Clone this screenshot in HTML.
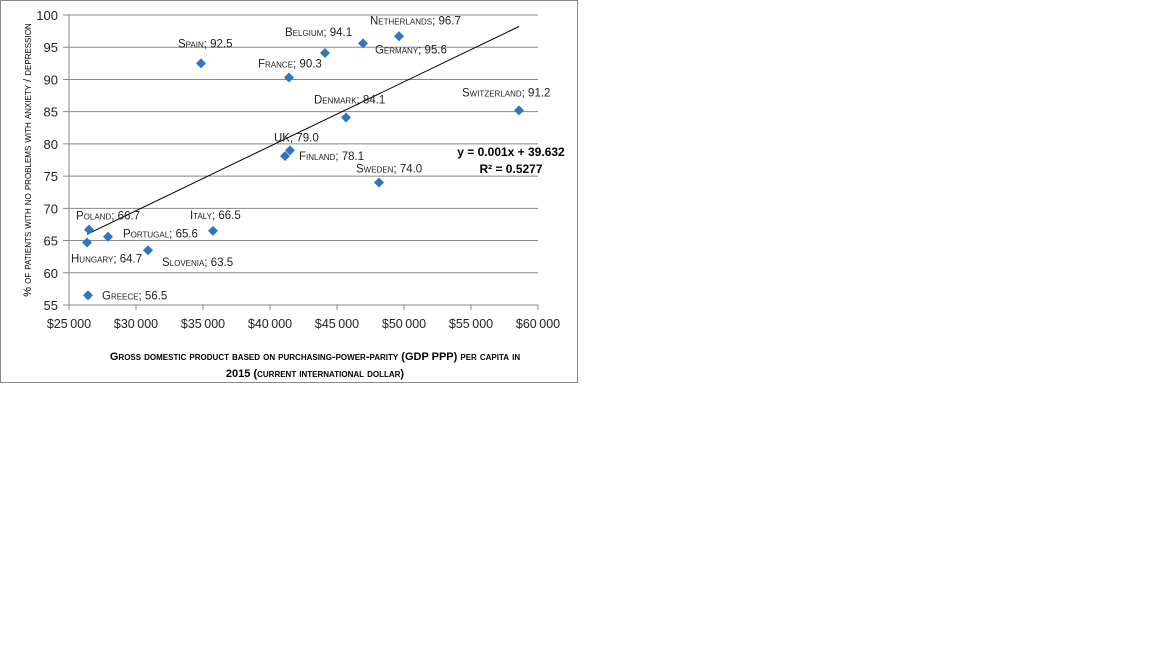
<!DOCTYPE html>
<html><head><meta charset="utf-8"><style>
body{margin:0;background:#fff;width:1152px;height:648px;overflow:hidden;font-family:"Liberation Sans",sans-serif}
svg text{font-family:"Liberation Sans",sans-serif}
.sc{font-variant:small-caps}
</style></head><body>
<svg id="chart" width="1152" height="648" xmlns="http://www.w3.org/2000/svg">
<rect x="0.5" y="0.5" width="577" height="382" fill="#fff" stroke="#888"/>
<g id="grid"></g><g id="trend"></g><g id="points"></g><g id="labels"></g>
<text class="sc" transform="translate(31,160) rotate(-90)" text-anchor="middle" font-size="11">% of patients with no problems with anxiety / depression</text>
<text class="sc" x="315" y="360" text-anchor="middle" font-size="11" font-weight="bold">Gross domestic product based on purchasing-power-parity (GDP PPP) per capita in</text>
<text class="sc" x="315" y="377" text-anchor="middle" font-size="11" font-weight="bold">2015 (current international dollar)</text>
<text x="511" y="156" text-anchor="middle" font-size="12" font-weight="bold">y = 0.001x + 39.632</text>
<text x="511" y="173" text-anchor="middle" font-size="12" font-weight="bold">R² = 0.5277</text>
</svg>
<script>
const countries=["Greece","Hungary","Poland","Portugal","Slovenia","Italy","Spain","France","Finland","UK","Belgium","Germany","Netherlands","Denmark","Sweden","Switzerland"];
const gdp=[26418,26343,26493,27910,30896,35746,34851,41418,41119,41493,44104,46940,49627,45672,48134,58582];
const pct=[56.5,64.7,66.7,65.6,63.5,66.5,92.5,90.3,78.1,79.0,94.1,95.6,96.7,84.1,74.0,85.2];
const labelValues=["56.5","64.7","66.7","65.6","63.5","66.5","92.5","90.3","78.1","79.0","94.1","95.6","96.7","84.1","74.0","91.2"];
const labelOffsets=[[14,4,"start"],[-16,20,"start"],[-13,-10,"start"],[15,1,"start"],[14,16,"start"],[-23,-12,"start"],[-23,-16,"start"],[-31,-10,"start"],[14,4,"start"],[-16,-9,"start"],[-40,-17,"start"],[12,10,"start"],[-29,-12,"start"],[-32,-14,"start"],[-23,-10,"start"],[-57,-14,"start"]];
const yTicks=[55,60,65,70,75,80,85,90,95,100];
const xTicks=[25000,30000,35000,40000,45000,50000,55000,60000];
const slope=0.001, intercept=39.632;
const X=v=>69+(v-25000)/35000*469;
const Y=v=>305-(v-55)/45*290;
const NS="http://www.w3.org/2000/svg";
function mk(t,a,p,txt){const e=document.createElementNS(NS,t);for(const k in a)e.setAttribute(k,a[k]);if(txt!==undefined)e.textContent=txt;p.appendChild(e);return e;}
const grid=document.getElementById('grid');
yTicks.forEach(v=>{
 const l=mk('line',{x1:63,x2:538,y1:Y(v),y2:Y(v),stroke:'#888','stroke-width':1},grid);
 
 
 const t=mk('text',{x:58,y:Y(v)+5,'text-anchor':'end','font-size':13,fill:'#222'},grid,String(v));
 
 
});
mk('line',{x1:69,x2:69,y1:Y(100),y2:Y(55),stroke:'#888'},grid);
xTicks.forEach(v=>{
 const l=mk('line',{x1:X(v),x2:X(v),y1:305,y2:310,stroke:'#888'},grid);
 
 
 const t=mk('text',{x:X(v),y:328,'text-anchor':'middle','font-size':12.5,fill:'#222'},grid,'$'+(v/1000)+'\u2009000');
 
 
});
const gx0=Math.min(...gdp),gx1=Math.max(...gdp);
const tl=mk('line',{x1:X(gx0),y1:Y(slope*gx0+intercept),x2:X(gx1),y2:Y(slope*gx1+intercept),stroke:'#000','stroke-width':1},document.getElementById('trend'));


const pg=document.getElementById('points'),lg=document.getElementById('labels');
countries.forEach((c,i)=>{
 const x=X(gdp[i]),y=Y(pct[i]);
 const p=mk('polygon',{points:`${x},${y-5} ${x+5},${y} ${x},${y+5} ${x-5},${y}`,fill:'#2e75c2'},pg);
 
 
 const o=labelOffsets[i];
 const t=mk('text',{x:x+o[0],y:y+o[1],'font-size':11.5,fill:'#222','class':'sc'},lg,c+'; '+labelValues[i]);
 
 
});
</script>
</body></html>
